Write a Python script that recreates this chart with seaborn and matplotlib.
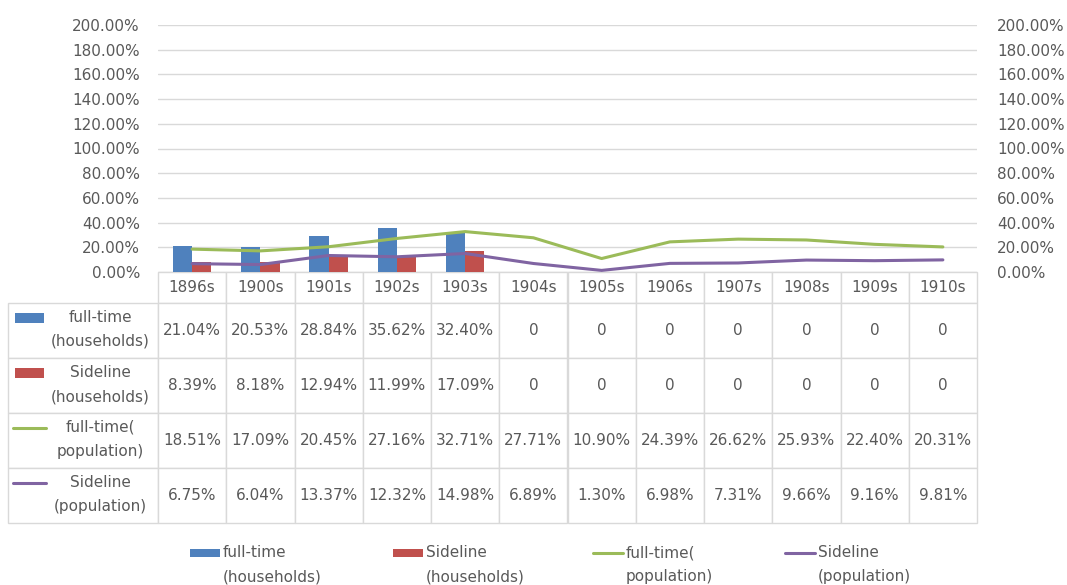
import numpy as np
import pandas as pd
import matplotlib
matplotlib.use("Agg")
import matplotlib.pyplot as plt
import seaborn as sns
from matplotlib.table import Table
from matplotlib.patches import Rectangle
from matplotlib.lines import Line2D

# ---------------- data ----------------
periods = ["1896s", "1900s", "1901s", "1902s", "1903s", "1904s",
           "1905s", "1906s", "1907s", "1908s", "1909s", "1910s"]
fulltime_households = [21.04, 20.53, 28.84, 35.62, 32.40, 0, 0, 0, 0, 0, 0, 0]
sideline_households = [8.39, 8.18, 12.94, 11.99, 17.09, 0, 0, 0, 0, 0, 0, 0]
fulltime_population = [18.51, 17.09, 20.45, 27.16, 32.71, 27.71,
                       10.90, 24.39, 26.62, 25.93, 22.40, 20.31]
sideline_population = [6.75, 6.04, 13.37, 12.32, 14.98, 6.89,
                       1.30, 6.98, 7.31, 9.66, 9.16, 9.81]
series_labels = ["full-time\n(households)", "Sideline\n(households)",
                 "full-time(\npopulation)", "Sideline\n(population)"]
y_ticks = [0, 20, 40, 60, 80, 100, 120, 140, 160, 180, 200]

# ---------------- style ----------------
sns.set_theme(style="white")
plt.rcParams["font.family"] = ["DejaVu Sans"]
TXT = "#595959"
GRID = "#d9d9d9"
BLUE, RED, GREEN, PURPLE = "#4f81bd", "#c0504d", "#9bbb59", "#8064a2"
FS = 11

W, H = 1067, 585
fig = plt.figure(figsize=(W / 100, H / 100), dpi=100)
fx = lambda x: x / W
fy = lambda y: 1 - y / H

PL, PR, PT, PB = 158, 977, 25, 272
ax = fig.add_axes([fx(PL), fy(PB), (PR - PL) / W, (PB - PT) / H])

bars = pd.DataFrame({
    "period": periods * 2,
    "value": fulltime_households + sideline_households,
    "series": [series_labels[0]] * len(periods) + [series_labels[1]] * len(periods),
})
sns.barplot(data=bars, x="period", y="value", hue="series",
            palette=[BLUE, RED], width=0.566, gap=0, ax=ax, legend=False,
            saturation=1, edgecolor="none")

ax.set_xlim(-0.5, len(periods) - 0.5)
ax.set_ylim(0, 200)
ax.set_yticks(y_ticks)
ax.set_yticklabels([f"{v:.2f}%" for v in y_ticks])
ax.set_xticks([])
ax.set_xlabel("")
ax.set_ylabel("")
ax.yaxis.grid(True, color=GRID, lw=1)
ax.set_axisbelow(True)
for s in ax.spines.values():
    s.set_visible(False)
ax.tick_params(axis="y", length=0, pad=13, labelsize=FS, labelcolor=TXT)

ax2 = ax.twinx()
xpos = np.arange(len(periods))
sns.lineplot(x=xpos, y=fulltime_population, ax=ax2, color=GREEN, lw=2.2)
sns.lineplot(x=xpos, y=sideline_population, ax=ax2, color=PURPLE, lw=2.2)
ax2.set_ylim(0, 200)
ax2.set_yticks(y_ticks)
ax2.set_yticklabels([f"{v:.2f}%" for v in y_ticks])
for s in ax2.spines.values():
    s.set_visible(False)
ax2.tick_params(axis="y", length=0, pad=14.5, labelsize=FS, labelcolor=TXT)
ax2.set_ylabel("")
ax2.set_xlim(-0.5, len(periods) - 0.5)

# ---------------- data table ----------------
TL, TB = 8, 523
plot_w = PR - PL
plot_h = PB - PT
bbox = [(TL - PL) / plot_w, -(TB - PB) / plot_h,
        (PR - TL) / plot_w, (TB - PB) / plot_h]
tbl = Table(ax, bbox=bbox)
colw = (PR - PL) / len(periods)
for j, p in enumerate(periods):
    tbl.add_cell(0, j + 1, width=colw, height=31, text=p, loc="center")
rows = [fulltime_households, sideline_households,
        fulltime_population, sideline_population]
for i, vals in enumerate(rows):
    tbl.add_cell(i + 1, 0, width=PL - TL, height=55, text="", loc="center")
    for j, v in enumerate(vals):
        t = "0" if v == 0 else f"{v:.2f}%"
        tbl.add_cell(i + 1, j + 1, width=colw, height=55, text=t, loc="center")
tbl.auto_set_font_size(False)
tbl.set_fontsize(FS)
for cell in tbl.get_celld().values():
    cell.set_edgecolor(GRID)
    cell.set_linewidth(1)
    cell.get_text().set_color(TXT)
ax.add_table(tbl)

# row-label keys and text
row_y = [318, 373, 428, 483]
kinds = ["bar", "bar", "line", "line"]
colors = [BLUE, RED, GREEN, PURPLE]
for lab, y, k, c in zip(series_labels, row_y, kinds, colors):
    if k == "bar":
        fig.add_artist(Rectangle((fx(15), fy(y + 5)), 29 / W, 10 / H,
                                 transform=fig.transFigure, color=c, lw=0))
    else:
        fig.add_artist(Line2D([fx(13), fx(46)], [fy(y), fy(y)],
                              transform=fig.transFigure, color=c, lw=2.2))
    fig.text(fx(100), fy(y - 8), lab, ha="center", va="top", fontsize=FS,
             color=TXT, linespacing=1.75)

# bottom legend
leg_x = [190, 393, 593, 785]
LY = 553
for lab, x, k, c in zip(series_labels, leg_x, kinds, colors):
    if k == "bar":
        fig.add_artist(Rectangle((fx(x), fy(LY + 4)), 30 / W, 8 / H,
                                 transform=fig.transFigure, color=c, lw=0))
    else:
        fig.add_artist(Line2D([fx(x), fx(x + 30)], [fy(LY), fy(LY)],
                              transform=fig.transFigure, color=c, lw=2.2))
    fig.text(fx(x + 33), fy(LY - 8), lab, ha="left", va="top", fontsize=FS,
             color=TXT, linespacing=1.75)

fig.savefig("out.png", dpi=100, facecolor="white")
